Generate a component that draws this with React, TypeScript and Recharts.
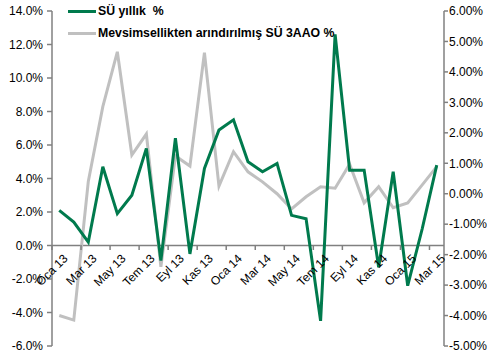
import { LineChart, Line, XAxis, YAxis, ReferenceLine } from 'recharts';

const months = [
  'Oca 13', 'Şub 13', 'Mar 13', 'Nis 13', 'May 13', 'Haz 13', 'Tem 13', 'Ağu 13', 'Eyl 13', 'Eki 13', 'Kas 13', 'Ara 13',
  'Oca 14', 'Şub 14', 'Mar 14', 'Nis 14', 'May 14', 'Haz 14', 'Tem 14', 'Ağu 14', 'Eyl 14', 'Eki 14', 'Kas 14', 'Ara 14',
  'Oca 15', 'Şub 15', 'Mar 15',
];

// SÜ yıllık % (left axis)
const annual = [
  2.1, 1.4, 0.2, 4.7, 1.9, 3.0, 5.8, -0.9, 6.4, -0.5, 4.6, 6.9,
  7.5, 5.0, 4.4, 4.9, 1.8, 1.6, -4.5, 12.6, 4.5, 4.5, -1.3, 4.4,
  -2.4, 1.0, 4.8,
];

// Mevsimsellikten arındırılmış SÜ 3AAO % (right axis)
const seasonal = [
  -4.0, -4.15, 0.4, 2.86, 4.66, 1.27, 1.96, -2.4, 1.24, 0.91, 4.63, 0.25,
  1.38, 0.72, 0.39, 0.0, -0.5, -0.1, 0.23, 0.18, 0.97, -0.3, 0.23, -0.46,
  -0.3, 0.29, 0.89,
];

const leftTicks = [14, 12, 10, 8, 6, 4, 2, 0, -2, -4, -6];
const rightTicks = [6, 5, 4, 3, 2, 1, 0, -1, -2, -3, -4, -5];

const GREEN = '#007A4D';
const GRAY = '#C0C0C0';
const AXIS = '#808080';
const FONT = '"Liberation Sans", Arial, sans-serif';

const data = months.map((m, i) => ({ month: m, annual: annual[i], seasonal: seasonal[i] }));

// x axis sits at the left-axis zero line
const ZERO_Y = 245;

function MonthTick(props: any) {
  const { x, payload } = props;
  const off = payload.offset || 0;
  const tx = x + 3;
  const ty = ZERO_Y + 8;
  return (
    <g>
      <line x1={x - off} x2={x - off} y1={ZERO_Y} y2={ZERO_Y + 5} stroke={AXIS} strokeWidth={1.5} />
      <text
        x={tx}
        y={ty}
        textAnchor="end"
        dominantBaseline="hanging"
        transform={`rotate(-45, ${tx}, ${ty})`}
        fontSize={12}
        fill="#000"
        fontFamily={FONT}
      >
        {payload.value}
      </text>
    </g>
  );
}

const legendItems = [
  { label: 'SÜ yıllık  %', color: GREEN },
  { label: 'Mevsimsellikten arındırılmış SÜ 3AAO %', color: GRAY },
];

export default function App() {
  return (
    <div style={{ position: 'absolute', left: 0, top: 0, width: 487, height: 356, background: '#fff' }}>
      <LineChart width={487} height={356} data={data} margin={{ top: 11, right: 0, bottom: 0, left: 0 }}>
        <XAxis
          dataKey="month"
          scale="band"
          interval={1}
          height={10}
          axisLine={false}
          tickLine={false}
          tick={<MonthTick />}
        />
        <YAxis
          yAxisId="left"
          width={52}
          domain={[-6, 14]}
          ticks={leftTicks}
          tickFormatter={(v: number) => v.toFixed(1) + '%'}
          axisLine={{ stroke: AXIS, strokeWidth: 1.5 }}
          tickLine={{ stroke: AXIS, strokeWidth: 1.5 }}
          tickSize={5}
          tickMargin={4}
          tick={{ fontSize: 12, fill: '#000', fontFamily: FONT }}
          interval={0}
        />
        <YAxis
          yAxisId="right"
          orientation="right"
          width={43}
          domain={[-5, 6]}
          ticks={rightTicks}
          tickFormatter={(v: number) => v.toFixed(2) + '%'}
          axisLine={{ stroke: AXIS, strokeWidth: 1.5 }}
          tickLine={{ stroke: AXIS, strokeWidth: 1.5 }}
          tickSize={4}
          tickMargin={1}
          tick={{ fontSize: 12, fill: '#000', fontFamily: FONT }}
          interval={0}
        />
        <ReferenceLine yAxisId="left" y={0} stroke={AXIS} strokeWidth={1.5} />
        <Line
          yAxisId="right"
          type="linear"
          dataKey="seasonal"
          stroke={GRAY}
          strokeWidth={3}
          dot={false}
          isAnimationActive={false}
        />
        <Line
          yAxisId="left"
          type="linear"
          dataKey="annual"
          stroke={GREEN}
          strokeWidth={3}
          dot={false}
          isAnimationActive={false}
        />
      </LineChart>
      <div style={{ position: 'absolute', left: 68, top: 0, fontFamily: FONT, fontWeight: 'bold', fontSize: 12.3, color: '#000' }}>
        {legendItems.map((it) => (
          <div key={it.label} style={{ display: 'flex', alignItems: 'center', height: 22 }}>
            <span style={{ display: 'inline-block', width: 28, height: 3, background: it.color, marginRight: 2 }} />
            <span style={{ whiteSpace: 'pre' }}>{it.label}</span>
          </div>
        ))}
      </div>
    </div>
  );
}
